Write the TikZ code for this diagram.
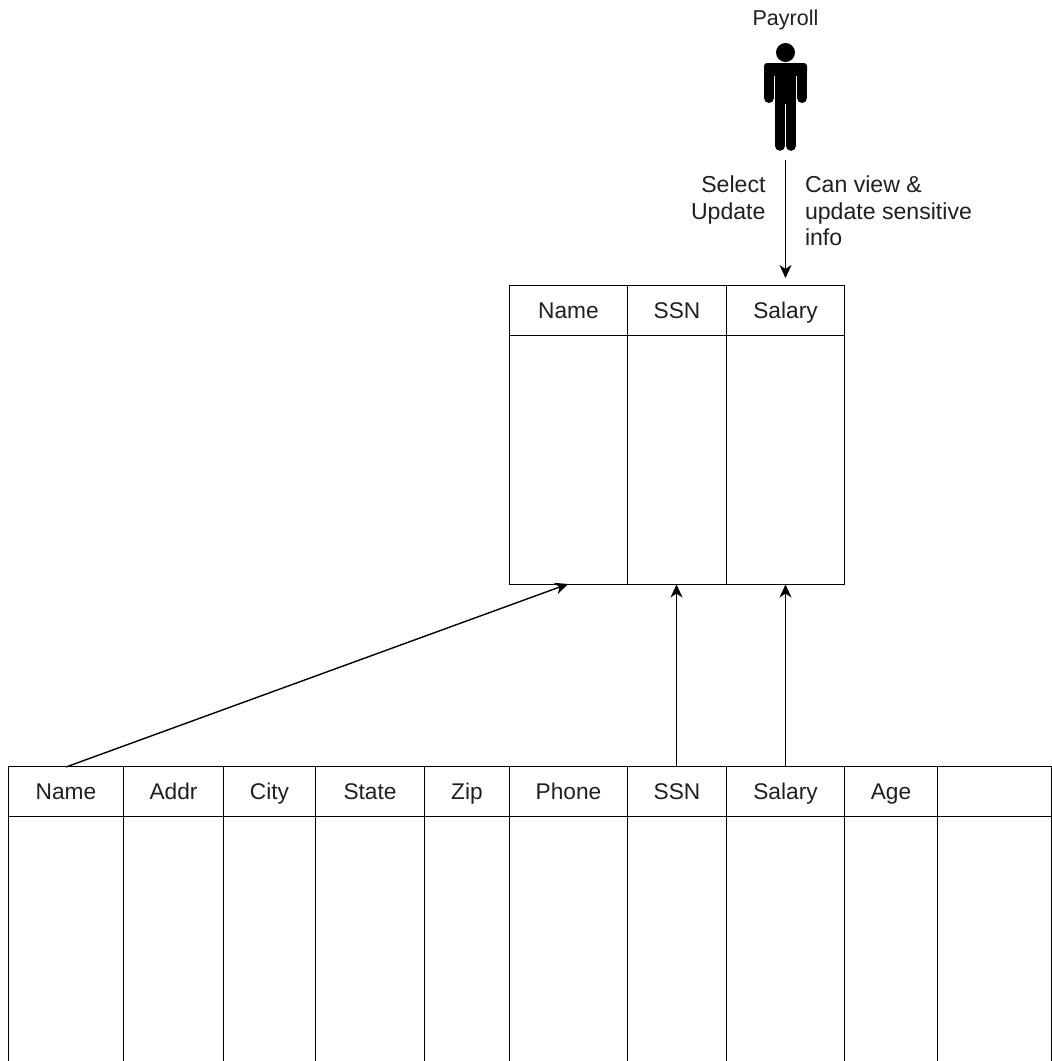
\documentclass[tikz,border=0pt]{standalone}
\usepackage{fontspec}
\setmainfont{Liberation Sans}
\usetikzlibrary{arrows.meta}
\tikzset{
  cell/.style={draw=black,line width=1.4pt,inner sep=0pt,outer sep=0pt,font=\fontsize{22.7}{26}\selectfont,text=black!88},
  lbl/.style={inner sep=0pt,outer sep=0pt,font=\fontsize{23.1}{26.5}\selectfont,text=black!88},
  conn/.style={draw=black,line width=1.4pt,-{Stealth[length=13pt,width=12pt,inset=4pt]}},
  limb/.style={draw=black,line cap=round,line width=#1}
}
\newcommand{\colcell}[6]{%
  \node[cell,text height=19pt,text depth=4pt,minimum width=#3pt-#2pt,minimum height=#5pt-#4pt] (#1h) at ({(#2+#3)/2},{-(#4+#5)/2}) {#6};
}
\newcommand{\colbody}[5]{%
  \node[cell,minimum width=#3pt-#2pt,minimum height=#5pt-#4pt] (#1b) at ({(#2+#3)/2},{-(#4+#5)/2}) {};
}
\begin{document}
\begin{tikzpicture}[x=1pt,y=1pt]
\useasboundingbox (0,0) rectangle (1052,-1061);
\begin{scope}[shift={(0.5,0.5)}]
% upper table
\colcell{ta}{509}{627}{286}{336}{Name}\colbody{ta}{509}{627}{336}{585}
\colcell{tb}{627}{726}{286}{336}{SSN}\colbody{tb}{627}{726}{336}{585}
\colcell{tc}{726}{844}{286}{336}{Salary}\colbody{tc}{726}{844}{336}{585}
% lower table
\colcell{la}{8}{123}{767}{817}{Name}\colbody{la}{8}{123}{817}{1070}
\colcell{lb}{123}{223}{767}{817}{Addr}\colbody{lb}{123}{223}{817}{1070}
\colcell{lc}{223}{315}{767}{817}{City}\colbody{lc}{223}{315}{817}{1070}
\colcell{ld}{315}{424}{767}{817}{State}\colbody{ld}{315}{424}{817}{1070}
\colcell{le}{424}{509}{767}{817}{Zip}\colbody{le}{424}{509}{817}{1070}
\colcell{lf}{509}{627}{767}{817}{Phone}\colbody{lf}{509}{627}{817}{1070}
\colcell{lg}{627}{726}{767}{817}{SSN}\colbody{lg}{627}{726}{817}{1070}
\colcell{lh}{726}{844}{767}{817}{Salary}\colbody{lh}{726}{844}{817}{1070}
\colcell{li}{844}{937}{767}{817}{Age}\colbody{li}{844}{937}{817}{1070}
\colcell{lj}{937}{1051}{767}{817}{}\colbody{lj}{937}{1051}{817}{1070}
\end{scope}
% person
\fill[black] (785.5,-52.5) circle (9.5);
\fill[black,rounded corners=3pt] (764,-63) rectangle (807,-76);
\fill[black] (775.2,-70) rectangle (795.8,-106);
\draw[limb=10pt] (769,-70) -- (769,-98);
\draw[limb=10pt] (802,-70) -- (802,-98);
\draw[limb=9.6pt] (780,-100) -- (780,-146);
\draw[limb=9.6pt] (791,-100) -- (791,-146);
\fill[white] (784.8,-103.5) rectangle (786.2,-152);
\node[lbl,font=\fontsize{21.5}{26}\selectfont,anchor=base] (payroll) at (785.5,-25) {Payroll};
\coordinate (pfoot) at (785.5,-160);
\coordinate (ptop) at (785.5,-278);
\draw[conn] (pfoot) -- (ptop);
\node[lbl,anchor=north east,align=right] (ops) at (765.5,-176) {Select\\Update};
\node[lbl,anchor=north west,align=left] (note) at (805,-176) {Can view \&\\update sensitive\\info};
% connectors
\coordinate (a1) at (66,-767);
\coordinate (a2) at (568,-584);
\draw[conn] (a1) -- (a2);
\draw[conn] ([xshift=-0.5pt]lgh.north) -- ([xshift=-0.5pt]tbb.south);
\draw[conn] (lhh.north) -- (tcb.south);
\end{tikzpicture}
\end{document}
